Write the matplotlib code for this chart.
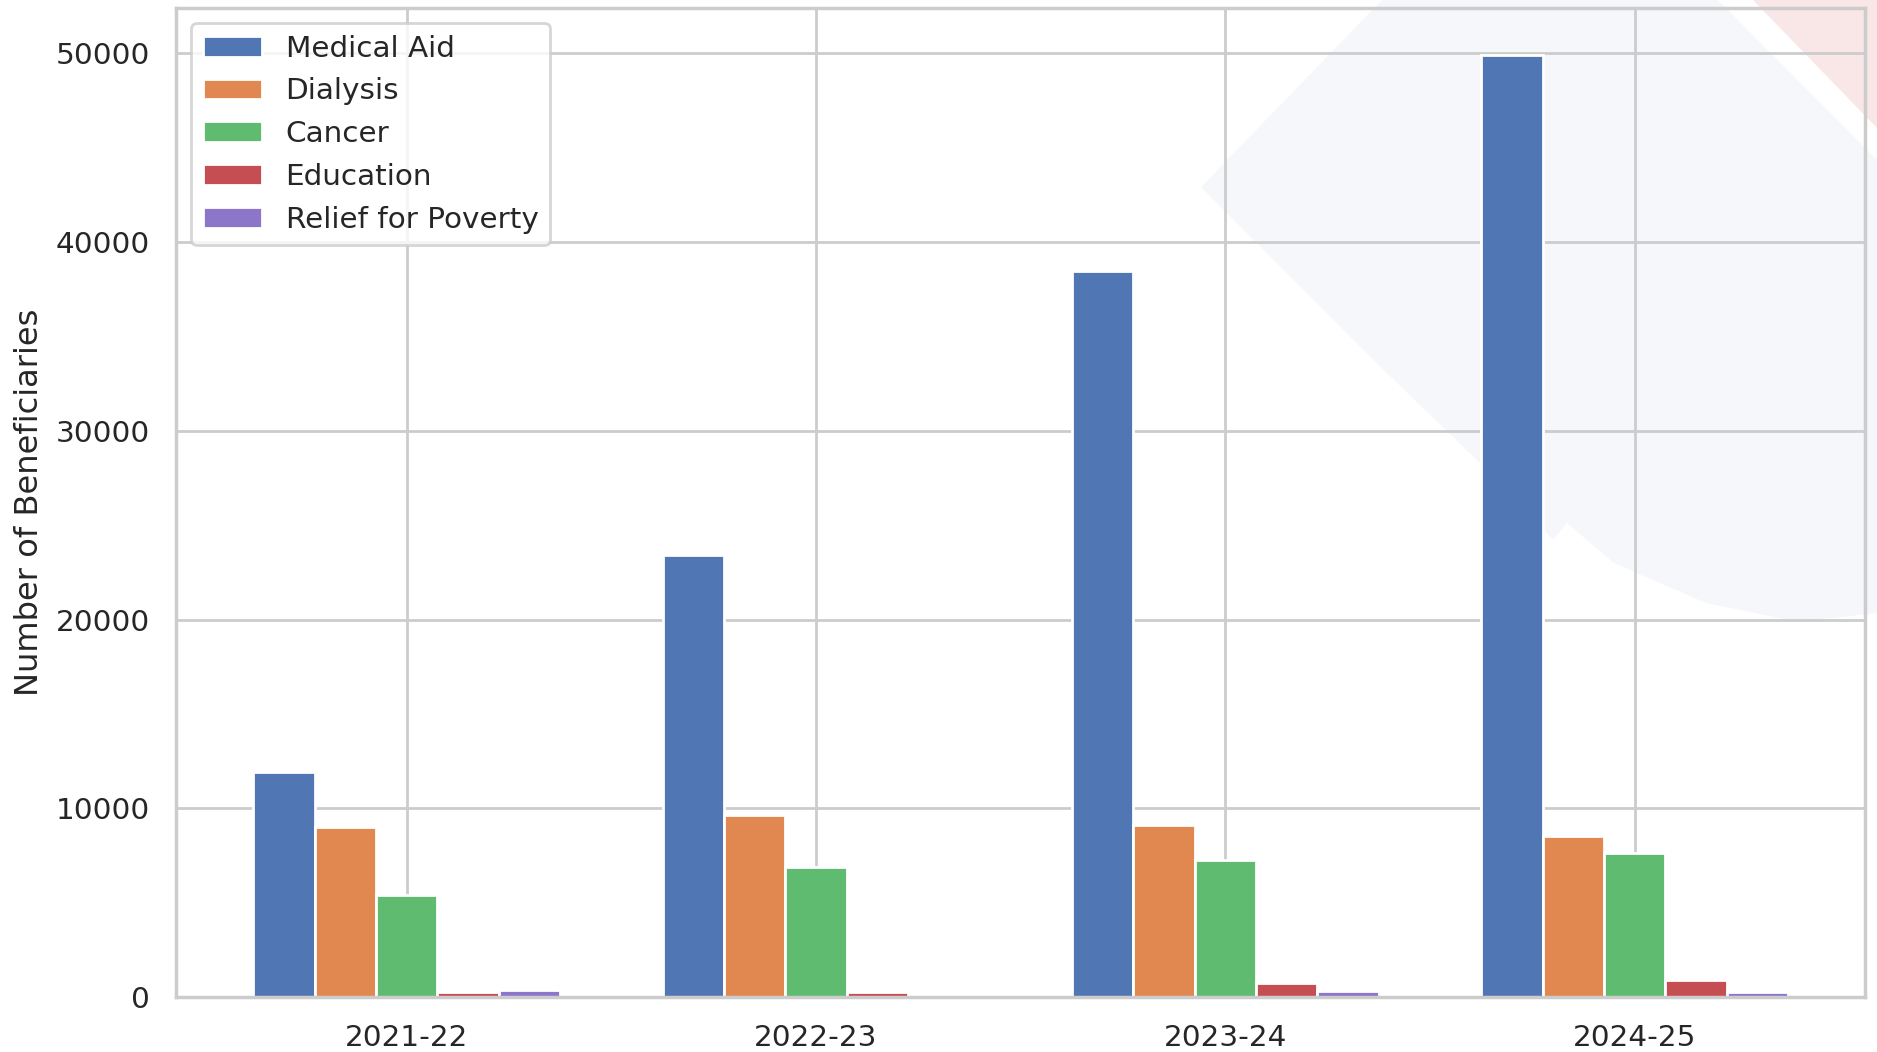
import numpy as np
import matplotlib
matplotlib.use("Agg")
import matplotlib.pyplot as plt
from matplotlib.patches import Polygon
import seaborn as sns

years = ["2021-22", "2022-23", "2023-24", "2024-25"]
medical_aid = [11950, 23420, 38450, 49900]
dialysis = [9010, 9640, 9120, 8520]
cancer = [5410, 6920, 7290, 7620]
education = [290, 290, 740, 910]
relief_for_poverty = [370, 0, 330, 290]

series = [
    ("Medical Aid", medical_aid),
    ("Dialysis", dialysis),
    ("Cancer", cancer),
    ("Education", education),
    ("Relief for Poverty", relief_for_poverty),
]
colors = ["#5077b4", "#e0884f", "#5fbb6f", "#c44e52", "#8d76c9"]

sns.set_theme(style="whitegrid", font_scale=0.965)

fig, ax = plt.subplots(figsize=(9.385, 5.26), dpi=200)

# faint logo watermark in the background (pixel outline, top-left origin)
W, H = 1877, 1052
grey_shape = [(1201, 187), (1363, 350), (1484, 467), (1553, 540), (1567, 523),
              (1614, 563), (1706, 603), (1799, 622), (1877, 613), (1877, 160),
              (1718, 0), (1382, 0)]
pink_shape = [(1753, 0), (1877, 0), (1877, 128)]
for shape, col in [(grey_shape, "#f6f7fa"), (pink_shape, "#f9e7e7")]:
    pts = [(px / W, 1 - py / H) for px, py in shape]
    ax.add_patch(Polygon(pts, closed=True, transform=fig.transFigure,
                         facecolor=col, edgecolor="none", zorder=0.2, clip_on=False))

x = np.arange(len(years))
width = 0.15
for i, (name, vals) in enumerate(series):
    ax.bar(x + (i - 2) * width, vals, width, label=name, color=colors[i])

ax.set_xticks(x)
ax.set_xticklabels(years)
ax.set_ylabel("Number of Beneficiaries")
ax.legend(loc="upper left")

fig.subplots_adjust(left=0.094, right=0.9936, top=0.9924, bottom=0.052)
fig.savefig("out.png")
